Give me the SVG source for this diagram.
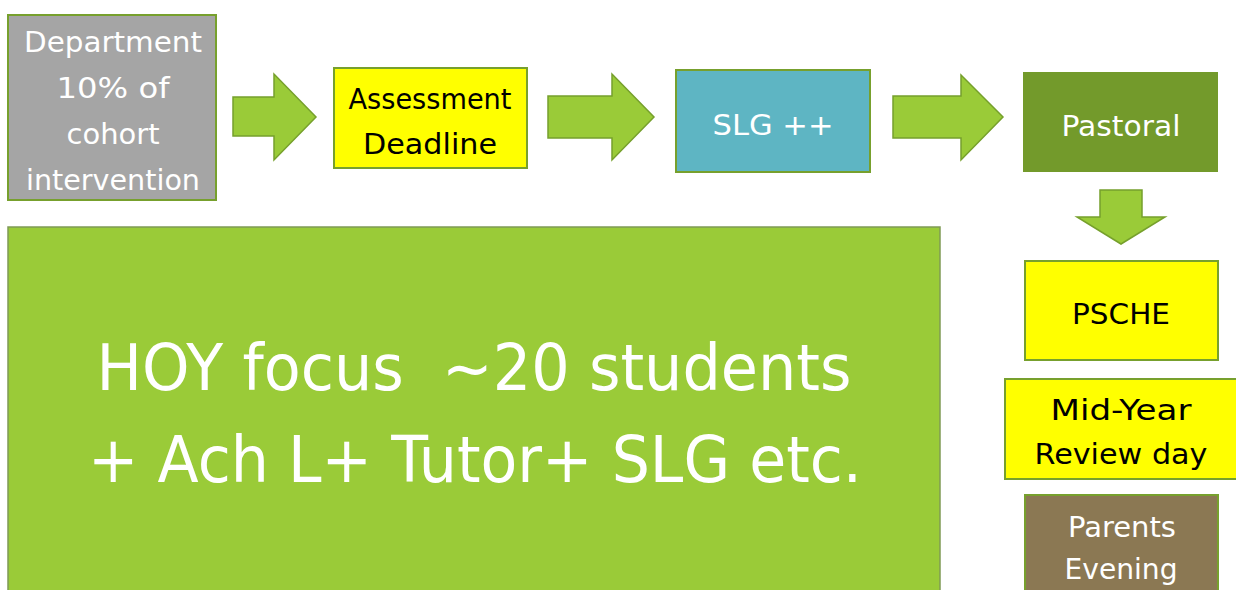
<svg xmlns="http://www.w3.org/2000/svg" width="1236" height="590" viewBox="0 0 1236 590">
<style>
.box{stroke:#77a02d;stroke-width:2}
.arrow{fill:#9acb38;stroke:#76a02c;stroke-width:1.5}
text{font-family:"DejaVu Sans","Liberation Sans",sans-serif;text-anchor:middle;white-space:pre}
.w{fill:#ffffff}
.k{fill:#000000}
.t28{font-size:29px}
.big{font-size:64px}
</style>
<rect width="1236" height="590" fill="#ffffff"/>
<g id="connectors">
<polygon class="arrow" points="233,97 274,97 274,74 316,117 274,160 274,136 233,136"/>
<polygon class="arrow" points="548,96 612,96 612,74 654,117 612,160 612,138 548,138"/>
<polygon class="arrow" points="893,96 961,96 961,75 1003,117 961,160 961,138 893,138"/>
<polygon class="arrow" points="1100,190 1142,190 1142,217 1165,217 1121,244 1077,217 1100,217"/>
</g>
<g id="department">
<rect class="box" x="8" y="15" width="208" height="185" fill="#a5a5a5"/>
<text class="w t28" x="113" y="52" textLength="178" lengthAdjust="spacingAndGlyphs">Department</text>
<text class="w t28" x="113" y="98" textLength="113" lengthAdjust="spacingAndGlyphs">10% of</text>
<text class="w t28" x="113" y="144" textLength="93" lengthAdjust="spacingAndGlyphs">cohort</text>
<text class="w t28" x="113" y="190" textLength="174" lengthAdjust="spacingAndGlyphs">intervention</text>
</g>
<g id="assessment">
<rect class="box" x="334" y="68" width="193" height="100" fill="#ffff00"/>
<text class="k t28" x="430" y="109" textLength="163" lengthAdjust="spacingAndGlyphs">Assessment</text>
<text class="k t28" x="430" y="154" textLength="134" lengthAdjust="spacingAndGlyphs">Deadline</text>
</g>
<g id="slg">
<rect class="box" x="676" y="70" width="194" height="102" fill="#5eb5c3"/>
<text class="w t28" x="773" y="135" textLength="121" lengthAdjust="spacingAndGlyphs">SLG ++</text>
</g>
<g id="pastoral">
<rect x="1023" y="72" width="195" height="100" fill="#739a2b"/>
<text class="w t28" x="1121" y="136" textLength="119" lengthAdjust="spacingAndGlyphs">Pastoral</text>
</g>
<g id="hoy">
<rect x="8" y="227" width="932" height="370" fill="#9acb38" stroke="#7f9a55" stroke-width="1.5"/>
<text class="w big" x="474" y="390" textLength="755" lengthAdjust="spacingAndGlyphs">HOY focus  ~20 students</text>
<text class="w big" x="475" y="482" textLength="774" lengthAdjust="spacingAndGlyphs">+ Ach L+ Tutor+ SLG etc.</text>
</g>
<g id="psche">
<rect class="box" x="1025" y="261" width="193" height="99" fill="#ffff00"/>
<text class="k t28" x="1121" y="324" textLength="98" lengthAdjust="spacingAndGlyphs">PSCHE</text>
</g>
<g id="midyear">
<rect class="box" x="1005" y="379" width="233" height="100" fill="#ffff00"/>
<text class="k t28" x="1121" y="420" textLength="141" lengthAdjust="spacingAndGlyphs">Mid-Year</text>
<text class="k t28" x="1121" y="464" textLength="173" lengthAdjust="spacingAndGlyphs">Review day</text>
</g>
<g id="parents">
<rect class="box" x="1025" y="495" width="193" height="100" fill="#8b7853"/>
<text class="w t28" x="1122" y="537" textLength="108" lengthAdjust="spacingAndGlyphs">Parents</text>
<text class="w t28" x="1121" y="579" textLength="113" lengthAdjust="spacingAndGlyphs">Evening</text>
</g>
</svg>
